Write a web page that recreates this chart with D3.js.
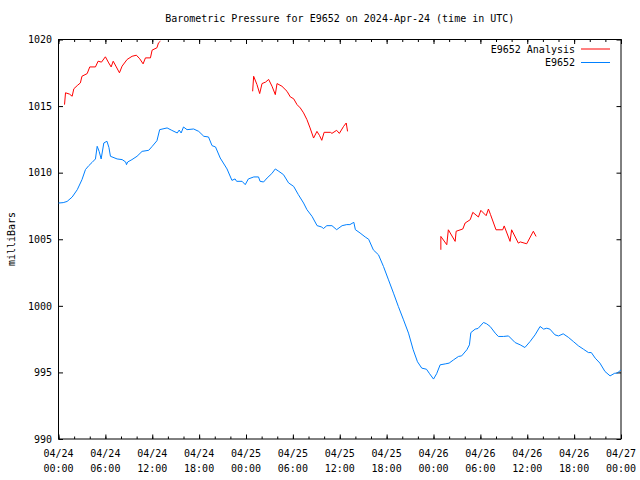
<!DOCTYPE html>
<html><head><meta charset="utf-8">
<script src="https://cdn.jsdelivr.net/npm/d3@7"></script>
<style>
html,body{margin:0;padding:0;background:#fff;}
text{font-family:"DejaVu Sans Mono",monospace;font-size:10px;fill:#000;}
</style></head>
<body>
<script>
// ---- data (hours since 2024-04-24 00:00 UTC) ----
const obsHours = [0.0,0.6,1.1,1.75,2.4,3.0,3.45,3.88,4.3,4.73,4.95,5.2,5.46,5.8,6.2,6.45,6.65,7.5,8.15,8.6,8.7,8.85,9.4,10.05,10.7,11.55,12.0,12.6,12.95,13.9,14.5,15.2,15.45,15.7,16.0,16.45,17.3,17.95,18.6,19.2,19.65,20.1,20.7,21.57,22.2,22.6,22.8,23.5,23.9,24.3,25.0,25.6,25.8,26.25,26.7,27.3,27.75,28.2,28.8,29.45,30.1,30.7,31.37,31.8,32.45,33.1,33.7,33.9,34.35,35.0,35.6,36.3,36.9,37.3,37.8,38.0,38.6,39.26,39.7,40.3,40.96,41.6,42.24,42.88,43.5,44.16,44.8,45.4,45.95,46.5,47.1,47.5,48.0,48.4,48.85,49.5,50.0,50.56,51.2,51.6,52.27,52.6,52.78,53.33,53.7,54.4,54.8,55.25,55.9,56.3,56.95,57.6,58.45,59.1,59.7,60.36,61.0,61.64,62.1,62.5,62.9,63.55,64.0,64.6,65.25,65.9,66.54,67.2,67.83,68.2,68.7,69.3,69.95,70.6,71.2,71.5,72.0];
const obsValues = [1007.72,1007.75,1007.84,1008.17,1008.72,1009.47,1010.23,1010.53,1010.77,1011.03,1011.98,1011.6,1011.03,1012.23,1012.36,1011.9,1011.23,1011.03,1010.98,1010.8,1010.6,1010.8,1010.98,1011.23,1011.6,1011.68,1011.98,1012.4,1013.23,1013.36,1013.18,1012.98,1013.2,1012.98,1013.43,1013.23,1013.28,1013.1,1012.73,1012.68,1012.03,1011.93,1011.1,1010.28,1009.42,1009.53,1009.35,1009.35,1009.1,1009.53,1009.68,1009.68,1009.35,1009.3,1009.6,1009.93,1010.28,1010.1,1009.85,1009.23,1008.97,1008.35,1007.72,1007.22,1006.72,1006.02,1005.92,1005.8,1006.02,1006.02,1005.72,1006.02,1006.1,1006.1,1006.27,1005.72,1005.47,1005.17,1005.0,1004.2,1003.83,1002.95,1001.95,1000.95,999.95,998.95,997.95,996.7,995.8,995.32,995.24,994.9,994.5,994.9,995.57,995.64,995.7,995.94,996.2,996.24,996.7,997.07,997.99,998.25,998.3,998.75,998.65,998.45,997.95,997.7,997.7,997.74,997.24,997.07,996.87,997.32,997.82,998.45,998.25,998.32,998.25,997.82,997.74,997.9,997.64,997.32,997.0,996.74,996.49,996.49,996.07,995.7,995.07,994.74,994.94,994.94,995.19];

// null marks a gap in the analysis series
const anaHours = [0.77,0.9,1.4,1.75,1.96,2.4,2.8,3.0,3.67,4.0,4.73,5.07,5.5,6.0,6.43,6.74,7.0,7.4,7.8,8.14,8.78,9.42,9.97,10.4,10.83,11.13,11.77,11.98,12.6,12.8,13.04,
  18,
  24.85,24.98,25.4,25.75,26.05,26.5,26.9,27.33,27.75,27.97,28.6,29.25,29.67,30.1,30.53,30.95,31.37,31.8,32.2,32.65,33.08,33.4,33.7,34.0,34.8,35.0,35.6,35.95,36.5,36.83,37.0,
  43,
  48.94,48.94,49.7,49.9,50.77,50.9,51.75,52.05,52.7,53.03,53.75,54.06,54.74,55.03,55.3,56.0,56.86,57.05,57.8,58.0,58.86,59.1,59.93,60.78,61.13];
const anaValues = [1015.11,1016.0,1015.9,1015.74,1016.3,1016.54,1016.74,1017.24,1017.44,1017.94,1017.94,1018.37,1018.3,1018.7,1018.24,1017.94,1018.37,1017.94,1017.5,1018.0,1018.5,1018.74,1018.82,1018.55,1018.17,1018.62,1018.62,1019.2,1019.38,1019.75,1019.87,
  null,
  1016.11,1017.24,1016.62,1015.94,1016.69,1016.8,1017.0,1016.49,1015.86,1016.69,1016.49,1016.11,1015.69,1015.55,1015.11,1014.86,1014.49,1013.98,1013.36,1012.6,1013.1,1012.8,1012.43,1013.03,1013.03,1012.95,1013.18,1012.95,1013.48,1013.73,1013.1,
  null,
  1004.21,1005.21,1004.59,1005.71,1004.84,1005.6,1005.77,1006.22,1006.47,1007.02,1006.67,1007.17,1006.77,1007.27,1006.85,1005.71,1005.71,1006.0,1004.84,1005.71,1004.71,1004.8,1004.66,1005.6,1005.21];

const yTicks = [990,995,1000,1005,1010,1015,1020];
const majorHours = [0,6,12,18,24,30,36,42,48,54,60,66,72];
const minorHours = d3.range(0,73,2);
const seriesNames = ["E9652 Analysis","E9652"];
const seriesColors = ["#ff0000","#0080ff"];
const title = "Barometric Pressure for E9652 on 2024-Apr-24 (time in UTC)";
const yLabel = "milliBars";

// ---- chart ----
const W=640,H=480;
const m={l:58.5,r:621,t:39.5,b:439};
const t0 = Date.UTC(2024,3,24,0,0);
const toDate = h => new Date(t0 + h*3600e3);

const svg = d3.select("body").append("svg").attr("width",W).attr("height",H);
const x = d3.scaleUtc().domain([toDate(0),toDate(72)]).range([m.l,m.r]);
const y = d3.scaleLinear().domain([990,1020]).range([m.b,m.t]);

const fmtD = d3.utcFormat("%m/%d"), fmtT = d3.utcFormat("%H:%M");

function cleanAxis(g){ g.select(".domain").remove(); g.selectAll("line").attr("stroke","#000"); }

// bottom & top ticks
svg.append("g").attr("transform",`translate(0,${m.b})`)
  .call(d3.axisBottom(x).tickValues(minorHours.map(toDate)).tickSize(-2.5).tickFormat("")).call(cleanAxis);
svg.append("g").attr("transform",`translate(0,${m.b})`)
  .call(d3.axisBottom(x).tickValues(majorHours.map(toDate)).tickSize(-4.5).tickFormat("")).call(cleanAxis);
svg.append("g").attr("transform",`translate(0,${m.t})`)
  .call(d3.axisTop(x).tickValues(minorHours.map(toDate)).tickSize(-2.5).tickFormat("")).call(cleanAxis);
svg.append("g").attr("transform",`translate(0,${m.t})`)
  .call(d3.axisTop(x).tickValues(majorHours.map(toDate)).tickSize(-4.5).tickFormat("")).call(cleanAxis);

// x labels
const xl = svg.append("g");
majorHours.forEach(h=>{
  const d=toDate(h);
  const t=xl.append("text").attr("x",x(d)).attr("text-anchor","middle");
  t.append("tspan").attr("x",x(d)).attr("y",457).text(fmtD(d));
  t.append("tspan").attr("x",x(d)).attr("y",472).text(fmtT(d));
});

// left & right ticks
svg.append("g").attr("transform",`translate(${m.l},0)`)
  .call(d3.axisLeft(y).tickValues(yTicks).tickSize(-4.5).tickPadding(6.5).tickFormat(d3.format("d"))).call(cleanAxis)
  .selectAll("text").attr("font-family","DejaVu Sans Mono").attr("font-size",10).attr("fill","#000");
svg.append("g").attr("transform",`translate(${m.r},0)`)
  .call(d3.axisRight(y).tickValues(yTicks).tickSize(-4.5).tickFormat("")).call(cleanAxis);

// frame
svg.append("rect").attr("x",m.l).attr("y",m.t).attr("width",m.r-m.l).attr("height",m.b-m.t)
  .attr("fill","none").attr("stroke","#000").attr("stroke-width",1);

// lines
const line = d3.line().defined(d=>d.v!=null).x(d=>x(toDate(d.h))).y(d=>y(d.v));
const obs = obsHours.map((h,i)=>({h,v:obsValues[i]}));
const ana = anaHours.map((h,i)=>({h,v:anaValues[i]}));
svg.append("path").datum(ana).attr("d",line).attr("fill","none").attr("stroke",seriesColors[0]).attr("stroke-width",1);
svg.append("path").datum(obs).attr("d",line).attr("fill","none").attr("stroke",seriesColors[1]).attr("stroke-width",1);

// legend
seriesNames.forEach((n,i)=>{
  const yy = 49 + i*13.5;
  svg.append("text").attr("x",575).attr("y",yy+3.5).attr("text-anchor","end").text(n);
  svg.append("line").attr("x1",581).attr("x2",610).attr("y1",yy).attr("y2",yy)
    .attr("stroke",seriesColors[i]).attr("stroke-width",1);
});

// title & y label
svg.append("text").attr("x",(m.l+m.r)/2).attr("y",22).attr("text-anchor","middle").text(title);
svg.append("text").attr("transform","translate(15,239) rotate(-90)").attr("text-anchor","middle").text(yLabel);
</script>
</body></html>
